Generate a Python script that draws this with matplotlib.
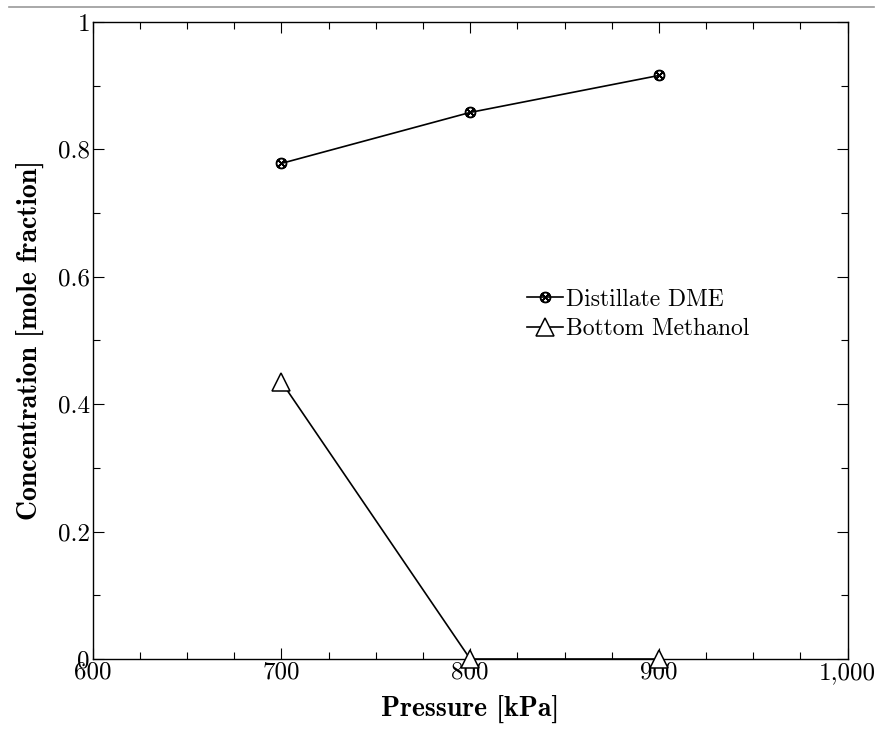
import matplotlib
matplotlib.use('Agg')
import matplotlib.pyplot as plt
from matplotlib.ticker import MultipleLocator, FuncFormatter
from matplotlib.lines import Line2D

# Dane
pressure = [700, 800, 900]
dme_distillate = [0.778, 0.858, 0.916]
methanol_bottom = [0.435, 0.0, 0.0]

plt.rcParams['font.family'] = 'cmr10'
plt.rcParams['mathtext.fontset'] = 'cm'
plt.rcParams['axes.unicode_minus'] = False

fig = plt.figure(figsize=(8.83, 7.32), dpi=100)
ax = fig.add_axes([0.105, 0.0997, 0.855, 0.8703])

ax.plot(pressure, dme_distillate, color='black', lw=1.2,
        marker=r'$\otimes$', ms=7.5, label='Distillate DME')
ax.plot(pressure, methanol_bottom, color='black', lw=1.2,
        marker='^', ms=13, mfc='white', mec='black', mew=1.1,
        label='Bottom Methanol', clip_on=False, zorder=5)

ax.set_xlim(600, 1000)
ax.set_ylim(0, 1)
ax.xaxis.set_major_locator(MultipleLocator(100))
ax.xaxis.set_minor_locator(MultipleLocator(25))
ax.yaxis.set_major_locator(MultipleLocator(0.2))
ax.yaxis.set_minor_locator(MultipleLocator(0.1))
ax.xaxis.set_major_formatter(FuncFormatter(lambda v, p: f'{v:,.0f}'))
ax.yaxis.set_major_formatter(FuncFormatter(lambda v, p: f'{v:g}'))

ax.tick_params(which='both', direction='in', top=True, right=True,
               labelsize=18, width=0.8, pad=2)
ax.tick_params(which='major', length=8)
ax.tick_params(which='minor', length=5)
for s in ax.spines.values():
    s.set_linewidth(1.0)

ax.set_xlabel('Pressure [kPa]', fontsize=20, family='cmb10', labelpad=8)
ax.set_ylabel('Concentration [mole fraction]', fontsize=20, family='cmb10', labelpad=10)

ax.legend(loc='upper left', bbox_to_anchor=(0.56, 0.6), frameon=False,
          fontsize=17, handlelength=1.5, handletextpad=0.15,
          borderpad=0, labelspacing=0.3)

# szara linia na górze obrazka
fig.add_artist(Line2D([0.01, 0.99], [0.99, 0.99], color='#999999', lw=1.2,
                      transform=fig.transFigure))

fig.savefig('out.png', dpi=100)
